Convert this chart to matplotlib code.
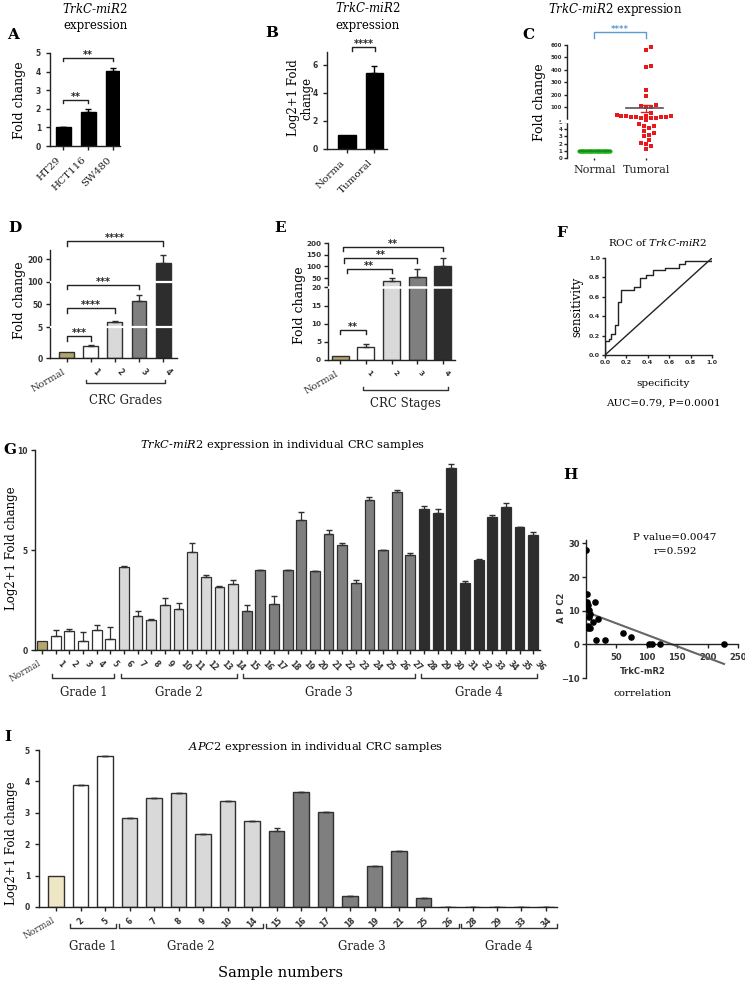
import numpy as np
import matplotlib
matplotlib.use('Agg')
import matplotlib.pyplot as plt

W, H = 745, 982
SERIF = 'DejaVu Serif'
TICKFONT = ['Liberation Sans Narrow', 'DejaVu Sans']

plt.rcParams['font.family'] = SERIF
plt.rcParams['mathtext.fontset'] = 'custom'
plt.rcParams['mathtext.it'] = 'DejaVu Serif:italic'
plt.rcParams['mathtext.rm'] = 'DejaVu Serif'
plt.rcParams['axes.linewidth'] = 1.0
plt.rcParams['axes.edgecolor'] = '#222222'
plt.rcParams['xtick.major.size'] = 3
plt.rcParams['ytick.major.size'] = 3

TRKC = r'$\mathit{TrkC}$-$\mathit{miR2}$'

# ---- A: cell lines
a_lines = ['HT29', 'HCT116', 'SW480']
a_vals = [1.0, 1.85, 4.05]
a_err = [0.03, 0.15, 0.15]

# ---- B: normal vs tumoral (log2+1)
b_groups = ['Norma', 'Tumoral']
b_vals = [1.0, 5.4]
b_err = [0.0, 0.5]

# ---- C: scatter of fold change
c_normal = [1.0] * 36
c_tumoral = [587, 560, 432, 420, 234, 186, 119, 111, 105, 98, 65,
             50, 48, 45, 44, 42, 40, 38, 36, 35, 33, 31, 30, 28, 13.6,
             4.7, 4.45, 4.4, 4.1, 3.7, 3.4, 3.2, 3.0, 2.5, 2.06, 1.9, 1.6, 1.24]

# ---- D: CRC grades
d_labels = ['Normal', '1', '2', '3', '4']
d_vals = [1.0, 1.9, 16, 57, 184]
d_err = [0, 0.15, 1.0, 13, 36]

# ---- E: CRC stages
e_labels = ['Normal', '1', '2', '3', '4']
e_vals = [1.1, 3.7, 41, 53, 103]
e_err = [0, 0.7, 11, 36, 33]

# ---- F: ROC curve
roc_fpr = [0, 0, 0.04, 0.06, 0.09, 0.125, 0.15, 0.27, 0.33, 0.38, 0.45, 0.56, 0.69, 0.75, 1.0]
roc_tpr = [0, 0.14, 0.17, 0.22, 0.31, 0.55, 0.67, 0.70, 0.79, 0.82, 0.88, 0.90, 0.94, 0.97, 1.0]

# ---- G: individual samples TrkC-miR2
g_samples = list(range(1, 37))
g_normal = 0.47
g_vals = [0.7, 0.97, 0.47, 1.0, 0.53, 4.17, 1.72, 1.5, 2.27, 2.03, 4.88, 3.63, 3.17, 3.32,
          1.97, 4.0, 2.28, 4.0, 6.5, 3.95, 5.78, 5.25, 3.33, 7.5, 5.0, 7.88, 4.75,
          7.05, 6.87, 9.08, 3.37, 4.5, 6.67, 7.13, 6.13, 5.75]
g_err = [0.3, 0.06, 0.41, 0.27, 0.6, 0.05, 0.25, 0.03, 0.31, 0.3, 0.49, 0.12, 0.05, 0.18,
         0.28, 0.0, 0.44, 0.02, 0.42, 0.0, 0.22, 0.08, 0.17, 0.17, 0.0, 0.12, 0.12,
         0.17, 0.16, 0.22, 0.1, 0.05, 0.08, 0.24, 0.0, 0.17]

# ---- H: correlation
h_trkc = [0, 1, 2, 4, 2, 5, 5.4, 4, 6.5, 11, 15, 19, 17, 32, 61, 74, 103, 108, 121, 227, 3, 6]
h_apc2 = [28.1, 14.9, 12.7, 11.8, 10.8, 10.3, 8, 5.4, 4.9, 6.6, 12.5, 7.4, 1.3, 1.3, 3.4, 2.3,
          0, 0, 0, 0, 5.0, 9.0]

# ---- I: individual samples APC2
i_samples = [2, 5, 6, 7, 8, 9, 10, 14, 15, 16, 17, 18, 19, 21, 25, 26, 28, 29, 33, 34]
i_normal = 1.0
i_vals = [3.9, 4.82, 2.85, 3.48, 3.62, 2.32, 3.37, 2.73, 2.43, 3.66, 3.03, 0.35, 1.3, 1.79,
          0.3, 0, 0, 0, 0, 0]
i_err = [0, 0, 0, 0, 0, 0, 0, 0, 0.09, 0, 0, 0, 0, 0, 0, 0, 0, 0, 0, 0]

grade_last = [5, 14, 27, 36]
grade_names = ['Grade 1', 'Grade 2', 'Grade 3', 'Grade 4']
grade_colors = ['#ffffff', '#d9d9d9', '#7f7f7f', '#2d2d2d']
EDGE = '#303030'

fig = plt.figure(figsize=(W / 100, H / 100), dpi=100)


def px_axes(l, t, r, b):
    return fig.add_axes([l / W, 1 - b / H, (r - l) / W, (b - t) / H])


def ftext(x, y, s, **kw):
    kw.setdefault('ha', 'center')
    kw.setdefault('va', 'center')
    return fig.text(x / W, 1 - y / H, s, **kw)


def style(ax, fs=5.5):
    for s in ['top', 'right']:
        ax.spines[s].set_visible(False)
    ax.tick_params(labelsize=fs, width=1, color='#222222')
    for lab in ax.get_yticklabels() + ax.get_xticklabels():
        lab.set_family(TICKFONT)
        lab.set_fontweight('bold')
        lab.set_color('#333333')


def sig(ax, x1, x2, y, text, drop=0.04, color='#222222', fs=7):
    tr = ax.get_xaxis_transform()
    ax.plot([x1, x1, x2, x2], [y - drop, y, y, y - drop], color=color, lw=1,
            transform=tr, clip_on=False)
    ax.annotate(text, xy=((x1 + x2) / 2, y), xycoords=tr, xytext=(0, -1.5),
                textcoords='offset points', ha='center', va='bottom', fontsize=fs,
                color=color, family='DejaVu Sans', fontweight='bold')


def group(ax, x1, x2, y, label, ly, up=0.03, fs=8.5):
    tr = ax.get_xaxis_transform()
    ax.plot([x1, x1, x2, x2], [y + up, y, y, y + up], color='#333333', lw=1,
            transform=tr, clip_on=False)
    ax.text((x1 + x2) / 2, ly, label, transform=tr, ha='center', va='center',
            fontsize=fs, color='#222222')


def rotate_numbers(ax, rot=-45, normal_fs=7):
    labs = ax.get_xticklabels()
    labs[0].set_rotation(30)
    labs[0].set_ha('right')
    labs[0].set_family(SERIF)
    labs[0].set_fontweight('normal')
    labs[0].set_fontsize(normal_fs)
    for lab in labs[1:]:
        lab.set_rotation(rot)
        lab.set_ha('left')
        lab.set_va('top')


def piecewise(vals, pos):
    fwd = lambda y: np.interp(y, vals, pos)
    inv = lambda p: np.interp(p, pos, vals)
    return fwd, inv


# ================= A =================
ax = px_axes(50, 53, 120, 146)
xa = np.arange(len(a_lines))
ax.bar(xa, a_vals, width=0.6, color='black', edgecolor='black')
ax.errorbar(xa, a_vals, yerr=[np.zeros(3), a_err], fmt='none', ecolor='black', capsize=2.5, lw=1)
ax.set_xlim(-0.52, 2.28)
ax.set_ylim(0, 5)
ax.set_yticks(range(6))
ax.set_xticks(xa, a_lines)
style(ax)
for lab in ax.get_xticklabels():
    lab.set_rotation(45); lab.set_ha('right'); lab.set_family(SERIF)
    lab.set_fontweight('normal'); lab.set_fontsize(7.5); lab.set_color('#222222')
sig(ax, 0, 1, 0.5, '**')
sig(ax, 0, 2, 0.95, '**')
ftext(95, 9, TRKC, fontsize=8.5)
ftext(95, 25, 'expression', fontsize=8.5)
ftext(13, 35, 'A', fontsize=11, fontweight='bold')
ftext(20, 100, 'Fold change', rotation=90, fontsize=9)

# ================= B =================
ax = px_axes(327, 52, 387, 149)
xb = np.arange(2)
ax.bar(xb, b_vals, width=0.63, color='black', edgecolor='black')
ax.errorbar(xb[1:], b_vals[1:], yerr=[[0], b_err[1:]], fmt='none', ecolor='black', capsize=2.5, lw=1)
ax.set_xlim(-0.74, 1.48)
ax.set_ylim(0, 6.9)
ax.set_yticks([0, 2, 4, 6])
ax.set_xticks(xb, b_groups)
style(ax)
for lab in ax.get_xticklabels():
    lab.set_rotation(45); lab.set_ha('right'); lab.set_family(SERIF)
    lab.set_fontweight('normal'); lab.set_fontsize(7.5); lab.set_color('#222222')
sig(ax, 0.2, 1.05, 1.05, '****')
ftext(368, 8, TRKC, fontsize=8.5)
ftext(368, 25, 'expression', fontsize=8.5)
ftext(272, 33, 'B', fontsize=11, fontweight='bold')
ftext(300, 98, 'Log2+1 Fold\nchange', rotation=90, fontsize=8.5, linespacing=1.1)

# ================= C =================
ax = px_axes(567, 45, 672, 158)
fwd, inv = piecewise([0, 5, 100, 600, 700], [0, 109, 153, 340, 377])
ax.set_yscale('function', functions=(fwd, inv))
ax.set_ylim(0, 600)
ax.set_xlim(-0.53, 1.5)
# swarm offsets for tumoral points (in pixels)
ypix = fwd(np.array(c_tumoral)) / 3.0
diam, xscale = 4.6, 53.0
placed, offs = [], np.zeros(len(ypix))
for i in np.argsort(ypix):
    k = 0
    found = None
    while found is None:
        for c in ([0] if k == 0 else [k, -k]):
            dx = c * diam * 0.55
            if all((dx - px) ** 2 + (ypix[i] - py) ** 2 >= diam ** 2 for px, py in placed):
                found = dx
                break
        k += 1
    placed.append((found, ypix[i]))
    offs[i] = found / xscale
ax.scatter(1 + offs, c_tumoral, marker='s', s=10, color='#e8191c', zorder=3, linewidths=0)
ax.scatter(np.linspace(-0.3, 0.3, len(c_normal)), c_normal, marker='o', s=9, color='#22b022',
           zorder=3, linewidths=0)
mean_t = np.mean(c_tumoral)
sem_t = np.std(c_tumoral) / np.sqrt(len(c_tumoral))
ax.plot([0.62, 1.32], [mean_t, mean_t], color='#555555', lw=1.2, zorder=4)
for v in (mean_t - sem_t, mean_t + sem_t):
    ax.plot([0.9, 1.1], [v, v], color='#e8191c', lw=1, zorder=4)
ax.plot([1, 1], [mean_t - sem_t, mean_t + sem_t], color='#e8191c', lw=0.8, zorder=2)
ax.plot([-0.3, 0.3], [1, 1], color='#0e8a0e', lw=1.2, zorder=4)
ax.set_yticks([0, 1, 2, 3, 4, 5, 100, 200, 300, 400, 500, 600])
ax.set_xticks([0, 1], ['Normal', 'Tumoral'])
ax.spines['bottom'].set_visible(False)
style(ax, fs=4.0)
ax.tick_params(axis='y', length=2, pad=1.5)
for lab in ax.get_xticklabels():
    lab.set_family(SERIF); lab.set_fontweight('normal'); lab.set_fontsize(8)
    lab.set_color('#222222')
ax.tick_params(axis='x', length=1.5)
ax.axhline(7, xmin=-0.05, xmax=0.05, color='white', lw=2.5, clip_on=False, zorder=5)
sig(ax, 0, 1, 1.115, '****', drop=0.05, color='#5b9bd5', fs=6)
ftext(615, 9, TRKC + ' expression', fontsize=8.5)
ftext(528, 35, 'C', fontsize=11, fontweight='bold')
ftext(539, 102, 'Fold change', rotation=90, fontsize=9)

# ================= D =================
ax = px_axes(50, 250, 177, 358)
fwd, inv = piecewise([0, 5, 50, 100, 200, 300], [0, 93, 162, 230, 298, 366])
ax.set_yscale('function', functions=(fwd, inv))
xd = np.arange(5)
d_cols = ['#b3a46c'] + grade_colors
ax.bar(xd, d_vals, width=0.62, color=d_cols, edgecolor=EDGE, lw=1)
ax.errorbar(xd[1:], d_vals[1:], yerr=[np.zeros(4), d_err[1:]], fmt='none', ecolor=EDGE,
            capsize=2.5, lw=1)
ax.set_ylim(0, 240)
ax.set_xlim(-0.7, 4.58)
for b in (5, 100):
    ax.axhline(b, xmin=0, xmax=1, color='white', lw=1.6, zorder=3)
ax.set_yticks([0, 5, 50, 100, 200])
ax.set_xticks(xd, d_labels)
style(ax, fs=5.5)
ax.tick_params(axis='y', pad=2)
rotate_numbers(ax)
sig(ax, 0, 1, 0.2, '***')
sig(ax, 0, 2, 0.46, '****')
sig(ax, 0, 3, 0.68, '***')
sig(ax, 0, 4, 1.08, '****')
group(ax, 0.8, 4.1, -0.23, 'CRC Grades', -0.39)
ftext(15, 228, 'D', fontsize=11, fontweight='bold')
ftext(20, 300, 'Fold change', rotation=90, fontsize=9)

# ================= E =================
ax = px_axes(328, 243, 455, 360)
fwd, inv = piecewise([0, 20, 50, 200, 250], [0, 217, 245, 350, 385])
ax.set_yscale('function', functions=(fwd, inv))
xe = np.arange(5)
ax.bar(xe, e_vals, width=0.66, color=d_cols, edgecolor=EDGE, lw=1)
ax.errorbar(xe[1:], e_vals[1:], yerr=[np.zeros(4), e_err[1:]], fmt='none', ecolor=EDGE,
            capsize=2.5, lw=1)
ax.set_ylim(0, 200)
ax.set_xlim(-0.47, 4.47)
ax.axhline(22, color='white', lw=1.8, zorder=3)
ax.set_yticks([0, 5, 10, 15, 20, 50, 100, 150, 200])
ax.set_xticks(xe, e_labels)
style(ax, fs=5.2)
ax.tick_params(axis='y', pad=2)
rotate_numbers(ax)
sig(ax, 0, 1, 0.26, '**')
sig(ax, 0.25, 2, 0.78, '**')
sig(ax, 0.15, 3, 0.87, '**')
sig(ax, 0.1, 4, 0.97, '**')
group(ax, 0.9, 4.2, -0.26, 'CRC Stages', -0.37)
ftext(280, 228, 'E', fontsize=11, fontweight='bold')
ftext(300, 305, 'Fold change', rotation=90, fontsize=9)

# ================= F =================
ax = px_axes(605, 258, 712, 355)
ax.plot(roc_fpr, roc_tpr, drawstyle='steps-post', color='#222222', lw=1)
ax.plot([0, 1], [0, 1], color='#222222', lw=1)
ax.set_xlim(0, 1)
ax.set_ylim(0, 1)
ticks = [0, 0.2, 0.4, 0.6, 0.8, 1.0]
ax.set_xticks(ticks, ['%.1f' % t for t in ticks])
ax.set_yticks(ticks, ['%.1f' % t for t in ticks])
style(ax, fs=4.6)
ax.tick_params(length=2, pad=1.5)
ftext(562, 233, 'F', fontsize=11, fontweight='bold')
ftext(658, 242, 'ROC of ' + TRKC, fontsize=7.5)
ftext(577, 307, 'sensitivity', rotation=90, fontsize=8.5)
ftext(663, 383, 'specificity', fontsize=7.5)
ftext(663, 403, 'AUC=0.79, P=0.0001', fontsize=7.5)

# ================= G =================
ax = px_axes(35, 450, 540, 650)
xg = np.arange(0, 37)
g_grade = np.digitize(g_samples, grade_last, right=True)
g_cols = ['#b5a76c'] + [grade_colors[k] for k in g_grade]
ax.bar(xg, [g_normal] + g_vals, width=0.72, color=g_cols, edgecolor=EDGE, lw=0.9)
ax.errorbar(xg[1:], g_vals, yerr=[np.zeros(len(g_vals)), g_err], fmt='none', ecolor=EDGE,
            capsize=2, lw=0.9)
ax.set_xlim(-0.52, 36.5)
ax.set_ylim(0, 10)
ax.set_yticks([0, 5, 10])
ax.set_xticks(xg, ['Normal'] + [str(s) for s in g_samples])
style(ax, fs=5.5)
ax.tick_params(axis='y', pad=2)
rotate_numbers(ax, normal_fs=6.5)
first = 1
for k, last in enumerate(grade_last):
    lo = first - 0.25 if k else 0.75
    group(ax, lo, last + 0.3, -0.14, grade_names[k], -0.215, up=0.02)
    first = last + 1
ftext(10, 450, 'G', fontsize=11, fontweight='bold')
ftext(283, 445, TRKC + ' expression in individual CRC samples', fontsize=8.2)
ftext(12, 548, 'Log2+1 Fold change', rotation=90, fontsize=8.5)

# ================= H =================
ax = px_axes(586, 540, 738, 678)
ax.scatter(h_trkc, h_apc2, s=14, color='black', zorder=3)
slope, icpt = np.polyfit(h_trkc, h_apc2, 1)
xx = np.array([min(h_trkc), max(h_trkc)])
ax.plot(xx, icpt + slope * xx, color='#666666', lw=1.5, zorder=2)
ax.set_xlim(0, 250)
ax.set_ylim(-10, 31)
ax.spines['bottom'].set_position(('data', 0))
ax.set_xticks([50, 100, 150, 200, 250])
ax.set_yticks([-10, 0, 10, 20, 30])
style(ax, fs=6)
ax.tick_params(axis='y', pad=1.5)
ftext(570, 475, 'H', fontsize=11, fontweight='bold')
ftext(675, 537, 'P value=0.0047', fontsize=7.5)
ftext(675, 552, 'r=0.592', fontsize=7.5)
ftext(643, 671, 'TrkC-mR2', fontsize=6, family=TICKFONT, fontweight='bold', color='#333333')
ftext(643, 694, 'correlation', fontsize=7.5)
ftext(561, 608, 'A P C2', rotation=90, fontsize=6, family=TICKFONT, fontweight='bold',
      color='#333333')

# ================= I =================
ax = px_axes(39, 750, 557, 907)
xi = np.arange(len(i_samples) + 1)
i_grade = np.digitize(i_samples, grade_last, right=True)
i_cols = ['#efe6c6'] + [grade_colors[k] for k in i_grade]
ax.bar(xi, [i_normal] + i_vals, width=0.64, color=i_cols, edgecolor=EDGE, lw=1)
ax.errorbar(xi[1:], i_vals, yerr=[np.zeros(len(i_vals)), i_err], fmt='none', ecolor=EDGE,
            capsize=2, lw=1)
ax.set_xlim(-0.7, 20.45)
ax.set_ylim(0, 5)
ax.set_yticks(range(6))
ax.set_xticks(xi, ['Normal'] + [str(s) for s in i_samples])
style(ax, fs=5.5)
rotate_numbers(ax, rot=45, normal_fs=6.5)
for lab in ax.get_xticklabels()[1:]:
    lab.set_ha('center'); lab.set_va('top')
for k in range(4):
    idx = np.where(i_grade == k)[0] + 1
    group(ax, idx[0] - 0.45, idx[-1] + 0.45, -0.134, grade_names[k], -0.25, up=0.025)
ftext(8, 737, 'I', fontsize=11, fontweight='bold')
ftext(316, 747, r'$\mathit{APC2}$ expression in individual CRC samples', fontsize=8.2)
ftext(12, 843, 'Log2+1 Fold change', rotation=90, fontsize=8.5)
ftext(280, 973, 'Sample numbers', fontsize=10.5)

fig.savefig('out.png', dpi=100)
